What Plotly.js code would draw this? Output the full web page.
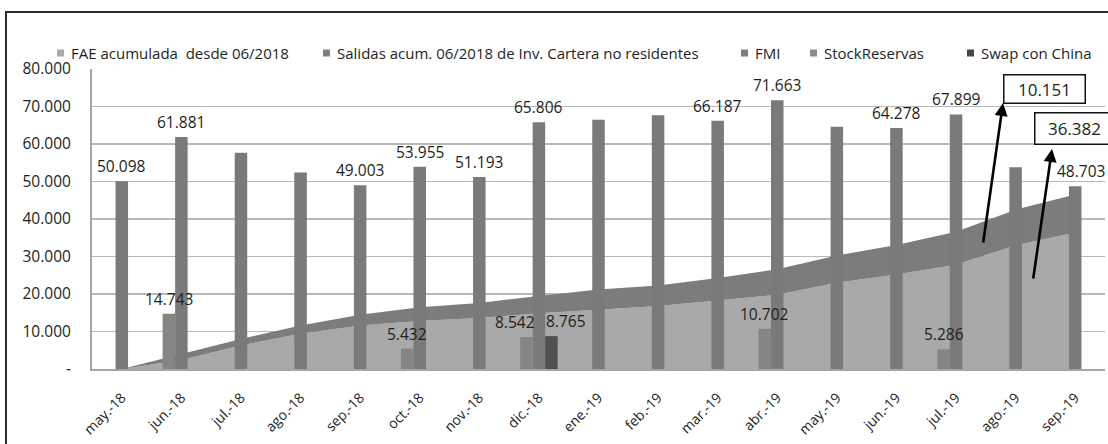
<!DOCTYPE html>
<html>
<head>
<meta charset="utf-8">
<script src="https://cdn.plot.ly/plotly-3.0.1.min.js"></script>
<style>
  html, body { margin: 0; padding: 0; background: #ffffff; }
  #chart { width: 1108px; height: 444px; }
</style>
</head>
<body>
<div id="chart"></div>
<script>
// ---------------- DATA ----------------
const categories = ['may.-18','jun.-18','jul.-18','ago.-18','sep.-18','oct.-18','nov.-18','dic.-18',
                    'ene.-19','feb.-19','mar.-19','abr.-19','may.-19','jun.-19','jul.-19','ago.-19','sep.-19'];

// FAE acumulada desde 06/2018 (area, bottom)
const faeAcumulada   = [0, 2400, 6300, 9400, 11600, 12800, 13600, 14900, 15800, 16800, 18300, 19800, 23000, 25200, 27800, 33000, 36382];
// Salidas acum. 06/2018 de Inv. Cartera no residentes (area, stacked on top)
const salidasCartera = [0, 1600, 1700, 2200, 2900, 3700, 4000, 4600, 5400, 5500, 6000, 6800, 7300, 7900, 8800, 9500, 10151];
// FMI (bars)
const fmi            = [null, 14743, null, null, null, 5432, null, 8542, null, null, null, 10702, null, null, 5286, null, null];
// Stock Reservas (bars)
const stockReservas  = [50098, 61881, 57700, 52400, 49003, 53955, 51193, 65806, 66500, 67700, 66187, 71663, 64600, 64278, 67899, 53800, 48703];
// Swap con China (bars)
const swapChina      = [null, null, null, null, null, null, null, 8765, null, null, null, null, null, null, null, null, null];
// which Stock Reservas values carry a data label in the original
const stockLabelled  = [true, true, false, false, true, true, true, true, false, false, true, true, false, true, true, false, true];

const seriesNames = ['FAE acumulada  desde 06/2018',
                     'Salidas acum. 06/2018 de Inv. Cartera no residentes',
                     'FMI', 'StockReservas', 'Swap con China'];
const seriesColors = ['#a9a9a9', '#7c7c7c', '#858585', '#7a7a7a', '#505050'];
const legendColors = ['#a9a9a9', '#808080', '#7f7f7f', '#8c8c8c', '#474747'];

const yTickValues = [0, 10000, 20000, 30000, 40000, 50000, 60000, 70000, 80000];
const yTickLabels = ['-', '10.000', '20.000', '30.000', '40.000', '50.000', '60.000', '70.000', '80.000'];

// call-out boxes (final values of the two areas)
const calloutSalidas = salidasCartera[salidasCartera.length - 1];
const calloutFae     = faeAcumulada[faeAcumulada.length - 1];

// ---------------- HELPERS ----------------
const fmt = v => String(Math.round(v)).replace(/\B(?=(\d{3})+(?!\d))/g, '.');

const M = { l: 92, r: 3, t: 69, b: 75 };
const W = 1108, H = 444;
const PW = W - M.l - M.r, PH = H - M.t - M.b;
const px = x => (x - M.l) / PW;           // pixel -> paper x
const py = y => (H - M.b - y) / PH;        // pixel -> paper y
const catW = PW / categories.length;
const barW = catW * 0.21;

const FONT = 'Open Sans, Noto Sans, sans-serif';
const TXT = '#1e1e1e';

// ---------------- TRACES ----------------
const traces = [
  { type: 'scatter', x: categories, y: faeAcumulada, name: seriesNames[0], stackgroup: 'areas',
    mode: 'lines', line: { width: 0, color: seriesColors[0] }, fillcolor: seriesColors[0],
    xaxis: 'x', yaxis: 'y', hoverinfo: 'y' },
  { type: 'scatter', x: categories, y: salidasCartera, name: seriesNames[1], stackgroup: 'areas',
    mode: 'lines', line: { width: 0, color: seriesColors[1] }, fillcolor: seriesColors[1],
    xaxis: 'x', yaxis: 'y', hoverinfo: 'y' },
  { type: 'bar', x: categories, y: fmi, name: seriesNames[2], marker: { color: seriesColors[2] },
    xaxis: 'x2', yaxis: 'y' },
  { type: 'bar', x: categories, y: stockReservas, name: seriesNames[3], marker: { color: seriesColors[3] },
    xaxis: 'x2', yaxis: 'y' },
  { type: 'bar', x: categories, y: swapChina, name: seriesNames[4], marker: { color: seriesColors[4] },
    xaxis: 'x2', yaxis: 'y' }
];

// ---------------- ANNOTATIONS ----------------
const annotations = [];
const labelFont = { family: FONT, size: 15.5, color: TXT };
const labelNudge = { 'dic.-18': { fmi: -11, swap: 15 } };

stockReservas.forEach((v, i) => {
  if (!stockLabelled[i]) return;
  const extra = (i === categories.length - 1) ? 6 : 0;
  annotations.push({ x: categories[i], y: v, xref: 'x2', yref: 'y', text: fmt(v), showarrow: false,
    xanchor: 'center', yanchor: 'bottom', yshift: 2, xshift: extra, font: labelFont });
});
fmi.forEach((v, i) => {
  if (v == null) return;
  const n = (labelNudge[categories[i]] || {}).fmi || 0;
  annotations.push({ x: categories[i], y: v, xref: 'x2', yref: 'y', text: fmt(v), showarrow: false,
    xanchor: 'center', yanchor: 'bottom', yshift: 2, xshift: -barW + n, font: labelFont });
});
swapChina.forEach((v, i) => {
  if (v == null) return;
  const n = (labelNudge[categories[i]] || {}).swap || 0;
  annotations.push({ x: categories[i], y: v, xref: 'x2', yref: 'y', text: fmt(v), showarrow: false,
    xanchor: 'center', yanchor: 'bottom', yshift: 2, xshift: barW + n, font: labelFont });
});

// arrows
annotations.push({ xref: 'paper', yref: 'paper', x: px(1003), y: py(103), text: '', showarrow: true,
  ax: 983 - 1003, ay: 244 - 103, arrowhead: 2, arrowsize: 1, arrowwidth: 2.6, arrowcolor: '#000', standoff: 0 });
annotations.push({ xref: 'paper', yref: 'paper', x: px(1052), y: py(149), text: '', showarrow: true,
  ax: 1033 - 1052, ay: 280 - 149, arrowhead: 2, arrowsize: 1, arrowwidth: 2.6, arrowcolor: '#000', standoff: 0 });
// boxed call-outs
annotations.push({ xref: 'paper', yref: 'paper', x: px(1044), y: py(89), xanchor: 'center', yanchor: 'middle',
  text: fmt(calloutSalidas), showarrow: false, font: { family: FONT, size: 17, color: TXT },
  bordercolor: '#111', borderwidth: 1.5, width: 78, height: 25, bgcolor: '#ffffff' });
annotations.push({ xref: 'paper', yref: 'paper', x: px(1074), y: py(128), xanchor: 'center', yanchor: 'middle',
  text: fmt(calloutFae), showarrow: false, font: { family: FONT, size: 17, color: TXT },
  bordercolor: '#111', borderwidth: 1.5, width: 76, height: 28, bgcolor: '#ffffff' });

// custom legend
const shapes = [];
const legendMarkerX = [57, 323, 741, 810, 967];
const legendY = 53;
seriesNames.forEach((name, i) => {
  shapes.push({ type: 'rect', xref: 'paper', yref: 'paper', layer: 'above',
    x0: px(legendMarkerX[i]), x1: px(legendMarkerX[i] + 7), y0: py(legendY + 3.5), y1: py(legendY - 3.5),
    fillcolor: legendColors[i], line: { width: 0 } });
  annotations.push({ xref: 'paper', yref: 'paper', x: px(legendMarkerX[i] + 12), y: py(legendY),
    xanchor: 'left', yanchor: 'middle', text: name, showarrow: false,
    font: { family: FONT, size: 15, color: TXT } });
});
// outer frame of the chart
shapes.push({ type: 'rect', xref: 'paper', yref: 'paper', layer: 'above',
  x0: px(6), x1: px(1120), y0: py(460), y1: py(12), line: { color: '#2a2a2a', width: 2 } });

// ---------------- LAYOUT ----------------
const xBase = {
  type: 'category', categoryorder: 'array', categoryarray: categories,
  range: [-0.5, categories.length - 0.5], fixedrange: true
};

const layout = {
  width: W, height: H,
  margin: M,
  paper_bgcolor: '#ffffff', plot_bgcolor: '#ffffff',
  font: { family: FONT, color: TXT },
  separators: ',.',
  showlegend: false,
  barmode: 'group', bargap: 0.37, bargroupgap: 0,
  xaxis: Object.assign({}, xBase, {
    showgrid: false, showline: true, linecolor: '#a5a5a5', linewidth: 2, ticks: '',
    tickangle: -45, tickfont: { family: FONT, size: 14, color: TXT }, ticklabelstandoff: 13,
    zeroline: false
  }),
  xaxis2: Object.assign({}, xBase, { overlaying: 'x', visible: false }),
  yaxis: {
    range: [0, 80000], tickvals: yTickValues, ticktext: yTickLabels,
    showgrid: true, gridcolor: '#b8b8b8', gridwidth: 1.5,
    showline: true, linecolor: '#a5a5a5', linewidth: 2, zeroline: false, ticks: '',
    tickfont: { family: FONT, size: 15.5, color: TXT }, ticklabelstandoff: 16, fixedrange: true
  },
  annotations: annotations,
  shapes: shapes
};

Plotly.newPlot('chart', traces, layout, { staticPlot: true, displayModeBar: false });
</script>
</body>
</html>
